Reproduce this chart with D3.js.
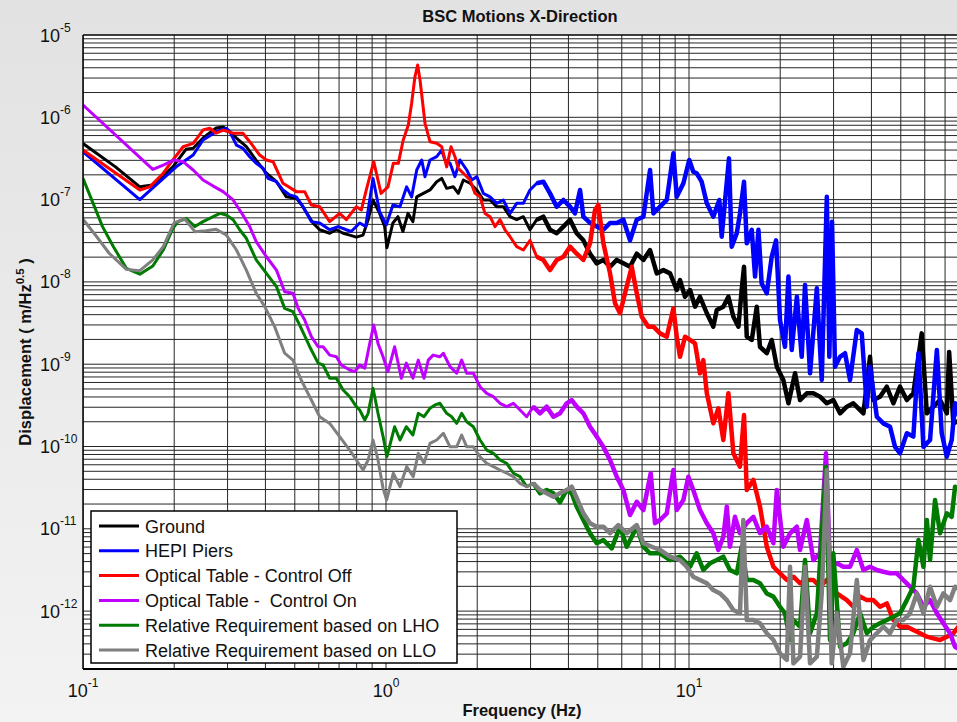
<!DOCTYPE html>
<html><head><meta charset="utf-8">
<script src="https://cdn.jsdelivr.net/npm/d3@7"></script>
<style>
html,body{margin:0;padding:0;background:#ececec;}
svg{display:block;font-family:Arial,"Liberation Sans",Helvetica,sans-serif;}
</style>
</head><body>
<svg id="chart" width="957" height="722"></svg>
<script>
// ---------- data (frequency in Hz, displacement in m/Hz^0.5) ----------
const seriesNames = ["Ground","HEPI Piers","Optical Table - Control Off","Optical Table -  Control On","Relative Requirement based on LHO","Relative Requirement based on LLO"];
const seriesColors = ["#000000","#0000ff","#ff0000","#bf00ff","#007a00","#7f7f7f"];
const xTickValues = [0.1, 1, 10];
const xTickExponents = ["-1","0","1"];
const yTickValues = [1e-12,1e-11,1e-10,1e-9,1e-8,1e-7,1e-6,1e-5];
const yTickExponents = ["-12","-11","-10","-9","-8","-7","-6","-5"];

const ground = [[0.1,4.8e-7],[0.128,2.5e-7],[0.154,1.43e-7],[0.17,1.5e-7],[0.198,2.5e-7],[0.219,4.1e-7],[0.231,4.2e-7],[0.249,5.6e-7],[0.275,7.4e-7],[0.29,7.6e-7],[0.305,6.7e-7],[0.321,5.6e-7],[0.346,4.4e-7],[0.373,3.0e-7],[0.403,2.1e-7],[0.435,1.65e-7],[0.469,1.08e-7],[0.506,1.04e-7],[0.532,8.2e-8],[0.574,5.2e-8],[0.604,4.3e-8],[0.652,3.9e-8],[0.686,4.3e-8],[0.722,3.9e-8],[0.759,3.7e-8],[0.798,3.5e-8],[0.84,3.7e-8],[0.873,5.7e-8],[0.906,9.9e-8],[0.953,6.8e-8],[0.99,4.7e-8],[1.007,2.6e-8],[1.054,5.2e-8],[1.095,6.2e-8],[1.137,4.1e-8],[1.182,6.8e-8],[1.227,5.4e-8],[1.263,1.08e-7],[1.328,1.19e-7],[1.397,1.31e-7],[1.47,1.65e-7],[1.527,1.81e-7],[1.586,1.37e-7],[1.669,1.43e-7],[1.732,1.19e-7],[1.8,1.73e-7],[1.894,1.58e-7],[1.993,1.31e-7],[2.096,9.9e-8],[2.205,9.9e-8],[2.319,8.2e-8],[2.439,8.2e-8],[2.567,6.2e-8],[2.7,5.7e-8],[2.84,6.2e-8],[2.987,4.3e-8],[3.144,5.7e-8],[3.306,6.2e-8],[3.478,4.3e-8],[3.66,3.9e-8],[3.85,4.7e-8],[4.049,5.7e-8],[4.26,3.9e-8],[4.481,3.2e-8],[4.714,2.2e-8],[4.96,1.68e-8],[5.217,1.85e-8],[5.488,1.53e-8],[5.774,1.85e-8],[6.074,1.68e-8],[6.389,1.53e-8],[6.722,2.2e-8],[7.071,1.85e-8],[7.437,2.44e-8],[7.826,1.27e-8],[8.232,1.39e-8],[8.659,1.27e-8],[9.111,7.97e-9],[9.342,1.05e-8],[9.7,6.6e-9],[10.08,7.97e-9],[10.47,5.0e-9],[10.87,6.6e-9],[11.45,4.16e-9],[12.03,2.86e-9],[12.35,4.56e-9],[12.98,5.0e-9],[13.49,6.6e-9],[14.01,3.78e-9],[14.56,2.86e-9],[14.92,7.97e-9],[15.19,1.53e-8],[15.51,2.16e-9],[16.11,1.97e-9],[16.74,5.0e-9],[17.15,1.63e-9],[18.06,1.36e-9],[18.75,1.97e-9],[19.49,9.33e-10],[20.48,6.43e-10],[21.29,3.35e-10],[22.39,7.76e-10],[23.25,3.67e-10],[24.48,4.43e-10],[25.73,4.43e-10],[27.06,4.03e-10],[28.5,3.35e-10],[29.94,3.67e-10],[31.51,2.53e-10],[33.18,3.05e-10],[34.86,3.35e-10],[37.64,2.53e-10],[39.58,1.23e-9],[40.58,3.67e-10],[42.7,4.03e-10],[44.97,5.33e-10],[47.25,3.35e-10],[49.71,5.33e-10],[52.36,3.67e-10],[55.01,4.43e-10],[58.63,2.37e-9],[60.95,2.53e-10],[64.04,3.05e-10],[67.38,3.67e-10],[70.96,2.53e-10],[72.2,1.41e-9],[74.55,1.91e-10],[78.4,2.1e-10]];

const hepi = [[0.1,3.82e-7],[0.154,1.0e-7],[0.203,2.5e-7],[0.231,3.48e-7],[0.249,5.3e-7],[0.275,6.7e-7],[0.297,7.36e-7],[0.305,6.7e-7],[0.321,4.6e-7],[0.337,4.2e-7],[0.355,3.32e-7],[0.373,2.76e-7],[0.393,2.4e-7],[0.408,1.81e-7],[0.435,1.65e-7],[0.457,1.31e-7],[0.481,1.14e-7],[0.506,1.08e-7],[0.532,8.2e-8],[0.567,5.4e-8],[0.604,5.2e-8],[0.652,4.3e-8],[0.695,4.7e-8],[0.74,4.3e-8],[0.768,4.1e-8],[0.819,5.2e-8],[0.857,4.7e-8],[0.906,1.81e-7],[0.953,7.13e-8],[1.002,4.92e-8],[1.054,8.6e-8],[1.112,8.2e-8],[1.17,1.43e-7],[1.215,1.08e-7],[1.263,2.29e-7],[1.312,3.03e-7],[1.345,1.9e-7],[1.397,3.03e-7],[1.47,3.32e-7],[1.527,4.0e-7],[1.565,3.03e-7],[1.627,2.76e-7],[1.689,1.9e-7],[1.754,3.03e-7],[1.847,2.29e-7],[1.918,1.73e-7],[1.993,1.9e-7],[2.096,1.19e-7],[2.205,1.08e-7],[2.319,9.0e-8],[2.439,9.9e-8],[2.567,6.8e-8],[2.7,9.0e-8],[2.84,9.0e-8],[2.987,1.31e-7],[3.144,1.58e-7],[3.306,1.65e-7],[3.478,1.19e-7],[3.66,8.2e-8],[3.85,9.9e-8],[4.049,8.2e-8],[4.205,6.8e-8],[4.369,1.31e-7],[4.481,6.2e-8],[4.714,5.2e-8],[4.96,4.7e-8],[5.217,4.3e-8],[5.488,5.2e-8],[5.774,5.2e-8],[6.074,5.7e-8],[6.389,3.2e-8],[6.722,5.7e-8],[7.071,6.2e-8],[7.437,2.29e-7],[7.629,6.8e-8],[8.025,8.2e-8],[8.445,9.9e-8],[8.882,3.65e-7],[9.111,1.08e-7],[9.583,1.58e-7],[10.02,3.03e-7],[10.33,2.18e-7],[10.6,2.09e-7],[11.01,1.65e-7],[11.45,9.0e-8],[12.03,6.2e-8],[12.59,9.9e-8],[12.82,3.54e-8],[13.55,3.17e-7],[13.83,2.68e-8],[14.38,3.9e-8],[14.73,6.8e-8],[15.19,1.65e-7],[15.51,2.94e-8],[16.11,4.3e-8],[16.52,1.16e-8],[16.95,4.3e-8],[17.37,9.6e-9],[18.06,7.27e-9],[18.75,2.02e-8],[19.38,3.2e-8],[19.97,3.44e-9],[20.74,1.63e-9],[21.29,1.16e-8],[21.83,1.49e-9],[22.7,6.6e-9],[23.55,1.23e-9],[24.15,9.18e-9],[25.09,7.76e-10],[26.42,8.36e-9],[27.42,6.43e-10],[28.5,1.08e-7],[29.05,1.23e-9],[29.65,5.4e-8],[30.33,9.33e-10],[31.51,1.23e-9],[32.73,1.36e-9],[34.0,6.43e-10],[35.8,2.6e-9],[37.16,2.37e-9],[38.63,3.05e-10],[39.58,9.33e-10],[41.68,2.3e-10],[43.79,1.91e-10],[46.08,1.74e-10],[47.86,9.9e-11],[49.71,8.27e-11],[52.36,1.45e-10],[55.01,1.32e-10],[57.19,1.36e-9],[59.38,9.9e-11],[62.45,1.2e-10],[65.77,1.49e-9],[68.25,1.45e-10],[70.96,7.52e-11],[73.64,1.2e-10],[75.51,3.35e-10],[78.4,2.1e-10]];

const tableOff = [[0.1,4.0e-7],[0.154,1.31e-7],[0.166,1.43e-7],[0.184,2.09e-7],[0.198,3.03e-7],[0.214,4.39e-7],[0.231,4.83e-7],[0.249,7.0e-7],[0.262,7.36e-7],[0.275,6.4e-7],[0.29,7.0e-7],[0.313,6.4e-7],[0.337,6.4e-7],[0.355,5.05e-7],[0.383,3.48e-7],[0.403,3.03e-7],[0.424,2.89e-7],[0.457,1.58e-7],[0.506,1.25e-7],[0.539,1.25e-7],[0.567,8.6e-8],[0.604,8.2e-8],[0.652,5.4e-8],[0.703,6.8e-8],[0.74,5.7e-8],[0.798,8.2e-8],[0.829,7.47e-8],[0.861,1.31e-7],[0.911,2.89e-7],[0.963,1.19e-7],[1.015,1.43e-7],[1.057,2.76e-7],[1.098,2.76e-7],[1.14,5.3e-7],[1.185,8.06e-7],[1.215,1.48e-6],[1.246,3.11e-6],[1.272,4.32e-6],[1.295,2.84e-6],[1.345,8.46e-7],[1.397,5.05e-7],[1.47,4.83e-7],[1.527,4.39e-7],[1.586,2.5e-7],[1.639,4.39e-7],[1.689,3.32e-7],[1.732,2.4e-7],[1.8,2.09e-7],[1.894,1.73e-7],[1.967,1.19e-7],[2.043,1.08e-7],[2.122,6.8e-8],[2.205,6.2e-8],[2.29,4.7e-8],[2.378,5.7e-8],[2.47,4.3e-8],[2.567,3.54e-8],[2.7,2.68e-8],[2.84,2.44e-8],[2.987,3.2e-8],[3.144,2.02e-8],[3.306,1.85e-8],[3.478,1.39e-8],[3.66,1.85e-8],[3.85,2.02e-8],[4.049,2.68e-8],[4.26,2.2e-8],[4.481,1.85e-8],[4.714,2.94e-8],[4.896,7.47e-8],[5.021,8.6e-8],[5.217,2.94e-8],[5.488,1.27e-8],[5.7,5.5e-9],[5.921,4.16e-9],[6.15,7.27e-9],[6.472,1.53e-8],[6.722,7.27e-9],[6.983,3.78e-9],[7.342,2.86e-9],[7.629,2.86e-9],[8.025,2.37e-9],[8.445,2.16e-9],[8.882,4.77e-9],[9.111,2.16e-9],[9.342,1.23e-9],[9.7,2.16e-9],[10.08,1.97e-9],[10.47,1.79e-9],[10.87,7.76e-10],[11.15,1.12e-9],[11.45,4.43e-10],[12.03,1.91e-10],[12.5,2.91e-10],[12.98,1.2e-10],[13.49,4.43e-10],[14.01,8.27e-11],[14.73,5.69e-11],[15.19,2.41e-10],[15.51,2.96e-11],[16.31,3.92e-11],[17.15,1.86e-11],[18.06,6.06e-12],[18.99,3.46e-12],[19.97,2.88e-12],[21.03,2.39e-12],[22.11,2.62e-12],[23.25,2.18e-12],[24.48,2.39e-12],[25.73,2.39e-12],[27.06,1.98e-12],[28.5,2.39e-12],[30.75,1.64e-12],[33.18,1.36e-12],[34.86,1.13e-12],[36.69,1.5e-12],[38.63,1.36e-12],[40.58,1.36e-12],[42.7,1.13e-12],[44.97,1.24e-12],[47.25,7.8e-13],[49.71,6.46e-13],[52.36,6.46e-13],[55.01,5.9e-13],[57.88,5.38e-13],[60.95,4.89e-13],[64.04,4.67e-13],[67.38,4.45e-13],[70.96,4.89e-13],[74.55,5.38e-13],[78.4,6.78e-13]];

const tableOn = [[0.1,1.41e-6],[0.17,2.33e-7],[0.184,2.63e-7],[0.2,3.03e-7],[0.214,2.89e-7],[0.231,2.29e-7],[0.249,1.73e-7],[0.269,1.46e-7],[0.29,1.25e-7],[0.313,9.9e-8],[0.337,6.5e-8],[0.355,4.7e-8],[0.373,3.08e-8],[0.403,2.02e-8],[0.435,1.39e-8],[0.463,7.6e-9],[0.493,7.27e-9],[0.513,4.77e-9],[0.539,3.44e-9],[0.567,2.16e-9],[0.597,1.63e-9],[0.62,1.63e-9],[0.652,1.29e-9],[0.686,1.23e-9],[0.712,9.78e-10],[0.759,8.5e-10],[0.789,8.11e-10],[0.819,9.78e-10],[0.851,8.93e-10],[0.884,1.79e-9],[0.911,2.99e-9],[0.941,1.79e-9],[0.978,1.23e-9],[1.015,8.11e-10],[1.068,1.63e-9],[1.124,6.75e-10],[1.167,1.03e-9],[1.227,6.75e-10],[1.278,1.12e-9],[1.335,6.75e-10],[1.379,1.12e-9],[1.431,1.29e-9],[1.507,1.23e-9],[1.546,1.36e-9],[1.627,9.33e-10],[1.711,7.76e-10],[1.777,1.12e-9],[1.847,7.76e-10],[1.942,7.76e-10],[2.043,5.33e-10],[2.15,4.43e-10],[2.262,4.03e-10],[2.378,3.35e-10],[2.503,3.05e-10],[2.633,3.35e-10],[2.769,2.78e-10],[2.913,2.3e-10],[3.064,3.05e-10],[3.223,2.53e-10],[3.392,3.05e-10],[3.568,2.3e-10],[3.753,2.53e-10],[3.949,3.35e-10],[4.102,3.67e-10],[4.26,3.05e-10],[4.481,2.53e-10],[4.714,1.74e-10],[4.96,1.32e-10],[5.217,9.9e-11],[5.488,6.86e-11],[5.774,4.3e-11],[6.074,2.96e-11],[6.389,1.47e-11],[6.722,2.13e-11],[7.071,1.69e-11],[7.475,4.73e-11],[7.724,1.17e-11],[8.025,1.28e-11],[8.445,1.54e-11],[8.882,5.18e-11],[9.111,1.69e-11],[9.583,2.24e-11],[9.951,4.3e-11],[10.33,2.96e-11],[10.87,1.69e-11],[11.45,1.17e-11],[12.03,8.83e-12],[12.5,5.53e-12],[12.98,8.02e-12],[13.33,1.86e-11],[13.65,6.06e-12],[14.18,1.4e-11],[14.73,8.83e-12],[15.51,1.17e-11],[16.31,1.4e-11],[17.15,8.83e-12],[18.06,1.06e-11],[18.99,6.67e-12],[19.49,2.96e-11],[20.48,6.06e-12],[21.55,8.83e-12],[22.7,1.06e-11],[23.25,5.53e-12],[24.48,1.28e-11],[25.73,4.17e-12],[27.06,5.04e-12],[28.32,8.27e-11],[29.2,3.46e-12],[30.75,3.81e-12],[32.31,3.46e-12],[34.0,3.46e-12],[35.8,5.53e-12],[37.64,3.16e-12],[39.58,3.46e-12],[41.68,3.16e-12],[43.79,3.01e-12],[46.08,2.88e-12],[48.52,2.88e-12],[50.98,2.39e-12],[53.64,1.98e-12],[56.49,1.64e-12],[59.38,1.13e-12],[62.45,1.36e-12],[65.77,9.4e-13],[69.09,7.11e-13],[72.7,5.38e-13],[75.51,3.69e-13],[78.4,3.4e-13]];

const reqLHO = [[0.1,1.81e-7],[0.108,9.0e-8],[0.116,4.7e-8],[0.126,2.68e-8],[0.139,1.46e-8],[0.154,1.24e-8],[0.17,1.56e-8],[0.184,2.44e-8],[0.198,4.48e-8],[0.206,5.4e-8],[0.219,5.93e-8],[0.234,4.7e-8],[0.249,5.4e-8],[0.269,6.2e-8],[0.283,6.8e-8],[0.297,6.5e-8],[0.313,5.7e-8],[0.329,4.3e-8],[0.346,3.39e-8],[0.373,1.85e-8],[0.403,1.27e-8],[0.435,8.76e-9],[0.463,4.77e-9],[0.493,4.35e-9],[0.519,2.99e-9],[0.56,1.63e-9],[0.597,1.03e-9],[0.62,9.78e-10],[0.652,6.75e-10],[0.686,6.75e-10],[0.722,4.86e-10],[0.759,4.03e-10],[0.798,3.05e-10],[0.819,2.78e-10],[0.851,2.1e-10],[0.873,2.53e-10],[0.906,5.1e-10],[0.941,2.53e-10],[0.978,1.32e-10],[1.007,7.52e-11],[1.068,1.74e-10],[1.112,1.2e-10],[1.167,1.74e-10],[1.227,1.38e-10],[1.278,2.53e-10],[1.335,2.3e-10],[1.397,2.91e-10],[1.451,3.2e-10],[1.507,3.35e-10],[1.586,2.53e-10],[1.647,2.3e-10],[1.711,1.91e-10],[1.777,2.53e-10],[1.847,2.0e-10],[1.942,1.74e-10],[2.043,1.2e-10],[2.15,9.06e-11],[2.262,8.27e-11],[2.378,6.86e-11],[2.503,6.25e-11],[2.633,4.73e-11],[2.769,4.3e-11],[2.913,3.25e-11],[3.064,3.57e-11],[3.223,2.7e-11],[3.392,2.96e-11],[3.568,2.7e-11],[3.753,2.1e-11],[3.949,2.96e-11],[4.102,2.7e-11],[4.26,1.86e-11],[4.481,1.28e-11],[4.714,8.83e-12],[4.96,6.67e-12],[5.217,7.3e-12],[5.559,5.79e-12],[5.921,1.06e-11],[6.231,6.06e-12],[6.722,1.06e-11],[7.071,6.06e-12],[7.437,5.04e-12],[8.025,5.04e-12],[8.659,4.17e-12],[9.342,4.58e-12],[10.08,3.46e-12],[10.6,5.04e-12],[11.15,3.16e-12],[11.73,3.81e-12],[12.35,4.17e-12],[12.98,4.58e-12],[13.65,3.16e-12],[14.38,2.88e-12],[14.92,6.06e-12],[15.51,2.39e-12],[16.31,2.39e-12],[17.15,2.18e-12],[18.06,1.64e-12],[18.99,1.5e-12],[19.97,1.13e-12],[20.74,9.4e-13],[21.55,4.45e-13],[22.11,7.8e-13],[23.25,6.46e-13],[24.15,4.17e-12],[25.09,5.38e-13],[26.42,9.4e-13],[28.32,5.69e-11],[29.2,4.45e-13],[29.94,5.04e-12],[31.51,3.69e-13],[33.18,4.07e-13],[34.86,5.38e-13],[36.69,9.4e-13],[38.63,5.38e-13],[40.58,6.46e-13],[42.7,7.11e-13],[44.97,7.8e-13],[47.25,8.55e-13],[49.71,9.4e-13],[52.36,1.36e-12],[55.01,1.98e-12],[57.19,7.3e-12],[59.38,3.46e-12],[60.95,1.28e-11],[62.45,4.17e-12],[64.87,2.24e-11],[67.38,8.83e-12],[70.96,1.54e-11],[73.64,1.4e-11],[75.51,3.25e-11],[78.4,2.96e-11]];

const reqLLO = [[0.1,5.77e-8],[0.111,3.54e-8],[0.122,2.23e-8],[0.139,1.42e-8],[0.154,1.37e-8],[0.17,1.85e-8],[0.184,2.68e-8],[0.2,5.25e-8],[0.217,5.77e-8],[0.234,4.08e-8],[0.255,4.19e-8],[0.275,4.36e-8],[0.297,3.72e-8],[0.321,2.44e-8],[0.346,1.39e-8],[0.373,7.27e-9],[0.398,5.0e-9],[0.429,2.86e-9],[0.463,1.36e-9],[0.493,1.12e-9],[0.525,6.43e-10],[0.567,3.67e-10],[0.604,2.3e-10],[0.652,1.91e-10],[0.703,1.32e-10],[0.759,9.06e-11],[0.798,6.86e-11],[0.84,5.18e-11],[0.873,6.86e-11],[0.906,1.2e-10],[0.941,6.86e-11],[0.978,3.1e-11],[1.005,2.24e-11],[1.057,4.73e-11],[1.112,3.25e-11],[1.17,5.69e-11],[1.23,4.3e-11],[1.278,8.27e-11],[1.335,6.25e-11],[1.397,1.09e-10],[1.47,1.2e-10],[1.546,1.45e-10],[1.627,9.9e-11],[1.711,9.9e-11],[1.777,1.38e-10],[1.847,9.9e-11],[1.942,9.9e-11],[2.043,7.52e-11],[2.15,6.25e-11],[2.262,5.69e-11],[2.378,5.18e-11],[2.503,4.73e-11],[2.633,4.3e-11],[2.769,3.57e-11],[2.913,3.25e-11],[3.064,3.57e-11],[3.223,2.96e-11],[3.392,2.7e-11],[3.568,2.45e-11],[3.753,2.7e-11],[3.949,2.96e-11],[4.102,3.25e-11],[4.26,2.37e-11],[4.481,1.54e-11],[4.714,1.17e-11],[4.96,1.06e-11],[5.217,1.06e-11],[5.488,8.83e-12],[5.845,1.11e-11],[6.231,8.83e-12],[6.722,1.11e-11],[7.071,6.67e-12],[7.534,6.06e-12],[8.025,5.53e-12],[8.659,4.58e-12],[9.342,4.17e-12],[9.831,3.46e-12],[10.33,2.62e-12],[10.87,2.39e-12],[11.45,2.18e-12],[12.03,1.8e-12],[12.66,1.64e-12],[13.33,1.36e-12],[14.01,1.03e-12],[14.73,9.4e-13],[15.11,1.28e-11],[15.51,7.8e-13],[16.31,7.8e-13],[17.15,7.11e-13],[18.06,5.38e-13],[18.99,4.45e-13],[19.97,3.07e-13],[21.03,2.55e-13],[21.55,3.46e-12],[22.11,2.32e-13],[23.25,2.79e-13],[24.15,3.46e-12],[25.09,2.32e-13],[26.42,2.79e-13],[27.42,1.64e-12],[28.5,5.18e-11],[29.58,2.32e-13],[30.75,9.4e-13],[32.31,2.11e-13],[34.0,3.07e-13],[35.8,2.39e-12],[37.64,2.55e-13],[39.58,4.45e-13],[41.68,5.38e-13],[43.79,6.46e-13],[46.08,5.38e-13],[48.52,7.8e-13],[50.98,7.8e-13],[53.64,9.4e-13],[56.49,1.64e-12],[59.38,9.4e-13],[62.45,1.98e-12],[65.77,1.13e-12],[69.09,1.64e-12],[72.7,1.36e-12],[75.51,1.98e-12],[78.4,1.8e-12]];

const allSeries = [ground, hepi, tableOff, tableOn, reqLHO, reqLLO];

// ---------- drawing ----------
const W = 957, H = 722;
const plot = {left: 83, top: 35, right: 992, bottom: 669};
const noisyFrom = 3; // Hz: above this the measured spectra form a dense noise band
const svg = d3.select("#chart");

const defs = svg.append("defs");
const grad = defs.append("linearGradient").attr("id","bg").attr("x1",0).attr("y1",0).attr("x2",0).attr("y2",1);
grad.append("stop").attr("offset","0%").attr("stop-color","#e2e2e2");
grad.append("stop").attr("offset","100%").attr("stop-color","#f3f3f3");
defs.append("clipPath").attr("id","clip").append("rect")
  .attr("x",plot.left).attr("y",plot.top).attr("width",plot.right-plot.left).attr("height",plot.bottom-plot.top);

svg.append("rect").attr("width",W).attr("height",H).attr("fill","url(#bg)");

const x = d3.scaleLog().domain([0.1,100]).range([plot.left, plot.right]);
const y = d3.scaleLog().domain([1.98e-13,1e-5]).range([plot.bottom, plot.top]);

svg.append("rect").attr("x",plot.left).attr("y",plot.top)
  .attr("width",plot.right-plot.left).attr("height",plot.bottom-plot.top).attr("fill","#fff");

// grid
const grid = svg.append("g").attr("clip-path","url(#clip)").attr("stroke","#000").attr("stroke-width",1).attr("opacity",0.85);
const xGrid = [];
for (let e=-1;e<=1;e++) for (let k=1;k<=9;k++) xGrid.push(k*Math.pow(10,e));
const yGrid = [];
for (let e=-13;e<=-6;e++) for (let k=1;k<=9;k++) { const v=k*Math.pow(10,e); if (v>=1.98e-13 && v<=1e-5) yGrid.push(v); }
grid.selectAll("line.vx").data(xGrid).join("line")
  .attr("x1",d=>x(d)).attr("x2",d=>x(d)).attr("y1",plot.top).attr("y2",plot.bottom);
grid.selectAll("line.hy").data(yGrid).join("line")
  .attr("x1",plot.left).attr("x2",plot.right).attr("y1",d=>y(d)).attr("y2",d=>y(d));

// series
const line = d3.line().x(d=>x(d[0])).y(d=>y(d[1]));
const lines = svg.append("g").attr("clip-path","url(#clip)");
allSeries.forEach((s,i)=>{
  lines.append("path").datum(s).attr("d",line)
    .attr("fill","none").attr("stroke",seriesColors[i]).attr("stroke-width",3)
    .attr("stroke-linejoin","round");
  lines.append("path").datum(s.filter(d=>d[0]>=noisyFrom)).attr("d",line)
    .attr("fill","none").attr("stroke",seriesColors[i]).attr("stroke-width",4.5)
    .attr("stroke-linejoin","round");
});

// frame
const frame = svg.append("g").attr("stroke","#000").attr("fill","none");
frame.append("line").attr("x1",plot.left).attr("x2",W).attr("y1",plot.top).attr("y2",plot.top).attr("stroke-width",1.5);
frame.append("line").attr("x1",plot.left).attr("x2",plot.left).attr("y1",plot.top).attr("y2",plot.bottom).attr("stroke-width",1.5);
frame.append("line").attr("x1",plot.left).attr("x2",W).attr("y1",plot.bottom).attr("y2",plot.bottom).attr("stroke-width",2);

// y tick labels
const yl = svg.append("g").attr("fill","#111");
yTickValues.forEach((v,i)=>{
  const t = yl.append("text").attr("x",40).attr("y",y(v)+6.5).attr("font-size",18);
  t.append("tspan").text("10");
  t.append("tspan").attr("dy",-10).attr("font-size",12).text(yTickExponents[i]);
});
// x tick labels
const xl = svg.append("g").attr("fill","#111");
xTickValues.forEach((v,i)=>{
  const t = xl.append("text").attr("x",x(v)).attr("y",697).attr("font-size",18).attr("text-anchor","middle");
  t.append("tspan").text("10");
  t.append("tspan").attr("dy",-10).attr("font-size",12).text(xTickExponents[i]);
});

// titles
svg.append("text").attr("x",520).attr("y",22).attr("text-anchor","middle")
  .attr("font-size",16.5).attr("font-weight","bold").attr("fill","#111").text("BSC Motions X-Direction");
svg.append("text").attr("x",522).attr("y",716).attr("text-anchor","middle")
  .attr("font-size",16.5).attr("font-weight","bold").attr("fill","#111").text("Frequency (Hz)");
const yt = svg.append("text").attr("transform","translate(31,352) rotate(-90)").attr("text-anchor","middle")
  .attr("font-size",16.5).attr("font-weight","bold").attr("fill","#111").style("white-space","pre");
yt.append("tspan").text("Displacement ( m/Hz");
yt.append("tspan").attr("dy",-7).attr("font-size",11.5).text("0.5");
yt.append("tspan").attr("dy",7).text(" )");

// legend
const lg = svg.append("g");
lg.append("rect").attr("x",91).attr("y",511).attr("width",366).attr("height",152)
  .attr("fill","#fff").attr("stroke","#000").attr("stroke-width",1.5);
seriesNames.forEach((n,i)=>{
  const yc = 526 + 24.8*i;
  lg.append("line").attr("x1",99).attr("x2",139).attr("y1",yc).attr("y2",yc)
    .attr("stroke",seriesColors[i]).attr("stroke-width",3);
  lg.append("text").attr("x",145).attr("y",yc+6.5).attr("font-size",18).attr("fill","#111")
    .style("white-space","pre").text(n);
});
</script>
</body></html>
